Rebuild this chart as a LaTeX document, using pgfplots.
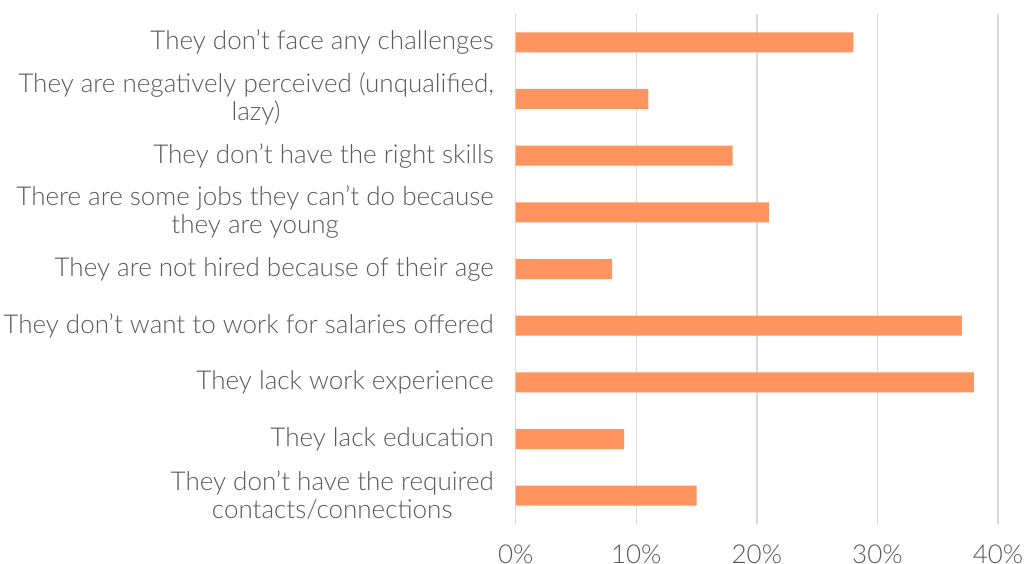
\documentclass[border=0pt]{standalone}
\usepackage{fontspec}
\setmainfont{Lato Light}
\usepackage{pgfplots}
\pgfplotsset{compat=1.18}
\definecolor{barc}{HTML}{FF945E}
\definecolor{txt}{HTML}{595959}
\definecolor{gridc}{HTML}{D9D9D9}
\begin{document}
\begin{tikzpicture}[x=1pt,y=1pt]
\begin{axis}[
  at={(515.7pt,40pt)}, anchor=south west,
  scale only axis, width=482.3pt, height=510pt,
  xbar, bar width=20pt,
  xmin=0, xmax=40, ymin=-0.5, ymax=8.5, y dir=reverse,
  axis line style={draw=none},
  major tick length=0pt,
  xmajorgrids, grid style={gridc, line width=1.3pt},
  xtick={0,10,20,30,40},
  xticklabels={0\%,10\%,20\%,30\%,40\%},
  ytick={0,...,8},
  yticklabels={
    They don’t face any challenges,
    {They are negatively perceived (unqualified,\\lazy)},
    They don’t have the right skills,
    There are some jobs they can’t do because\\they are young,
    They are not hired because of their age,
    They don’t want to work for salaries offered,
    They lack work experience,
    They lack education,
    They don’t have the required\\contacts/connections},
  ticklabel style={font=\fontsize{26}{28}\selectfont, text=txt},
  yticklabel style={align=center, anchor=east, inner sep=0pt, xshift=-21.7pt},
  xticklabel style={anchor=north, inner sep=0pt, yshift=-21pt},
]
\addplot[fill=barc, draw=none] coordinates {
  (28,0) (11,1) (18,2) (21,3) (8,4) (37,5) (38,6) (9,7) (15,8)};
\end{axis}
\pgfresetboundingbox
\path[use as bounding box] (0,0) rectangle (1034,564);
\end{tikzpicture}
\end{document}
